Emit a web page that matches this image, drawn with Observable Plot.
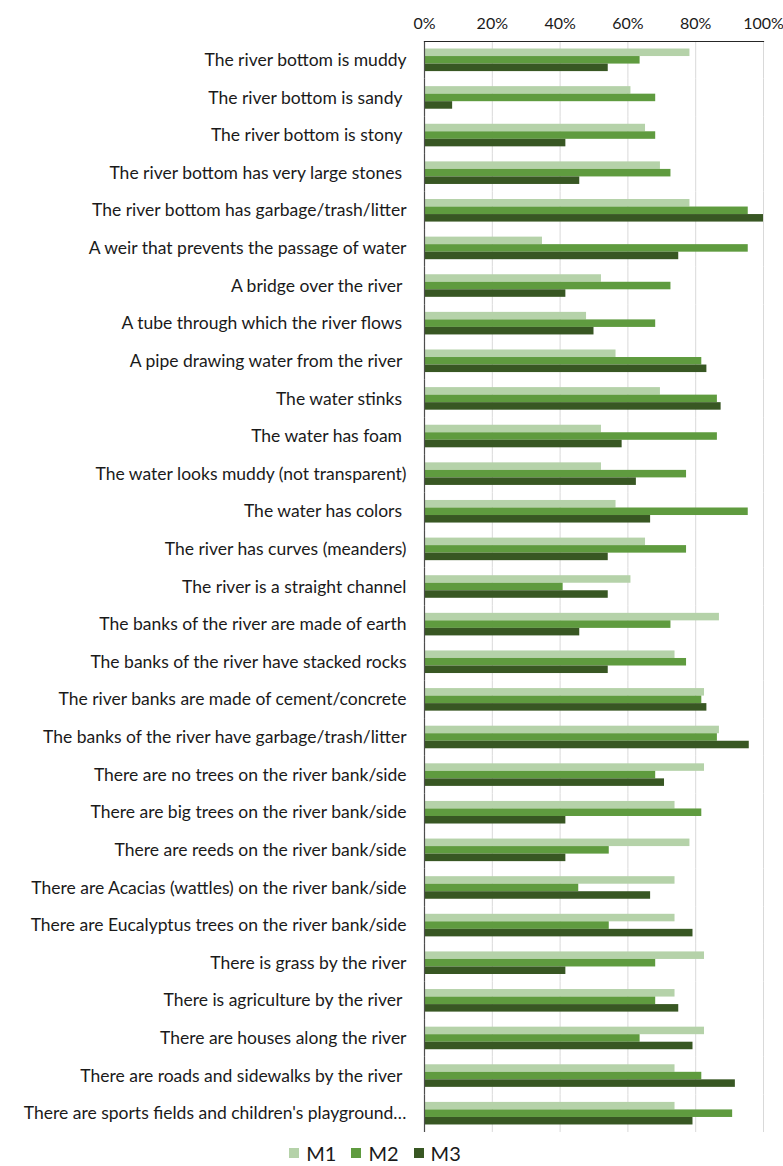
<!DOCTYPE html>
<html>
<head>
<meta charset="utf-8">
<script src="https://cdn.jsdelivr.net/npm/d3@7"></script>
<script src="https://cdn.jsdelivr.net/npm/@observablehq/plot@0.6"></script>
<style>
  html, body { margin: 0; padding: 0; background: #fff; }
  #chart svg text { white-space: pre; }
  .legend { display: flex; justify-content: center; gap: 15px; width: 750px; font-family: Lato, sans-serif; font-size: 20px; color: #1a1a1a; height: 26px; align-items: center; }
  .legend span.item { display: flex; align-items: center; gap: 7px; }
  .legend span.sw { display: inline-block; width: 10px; height: 10px; }
</style>
</head>
<body>
<div id="chart"></div>
<script>
const categories = [
  "The river bottom is muddy",
  "The river bottom is sandy ",
  "The river bottom is stony ",
  "The river bottom has very large stones ",
  "The river bottom has garbage/trash/litter",
  "A weir that prevents the passage of water",
  "A bridge over the river ",
  "A tube through which the river flows ",
  "A pipe drawing water from the river ",
  "The water stinks ",
  "The water has foam ",
  "The water looks muddy (not transparent)",
  "The water has colors ",
  "The river has curves (meanders)",
  "The river is a straight channel",
  "The banks of the river are made of earth",
  "The banks of the river have stacked rocks",
  "The river banks are made of cement/concrete",
  "The banks of the river have garbage/trash/litter",
  "There are no trees on the river bank/side",
  "There are big trees on the river bank/side",
  "There are reeds on the river bank/side",
  "There are Acacias (wattles) on the river bank/side",
  "There are Eucalyptus trees on the river bank/side",
  "There is grass by the river",
  "There is agriculture by the river ",
  "There are houses along the river",
  "There are roads and sidewalks by the river ",
  "There are sports fields and children's playground…"
];
const seriesNames = ["M1", "M2", "M3"];
const seriesColors = ["#b5d2a9", "#5f9b3f", "#385723"];
const m1 = [78.3, 60.9, 65.2, 69.6, 78.3, 34.8, 52.2, 47.8, 56.5, 69.6, 52.2, 52.2, 56.5, 65.2, 60.9, 87.0, 73.9, 82.6, 87.0, 82.6, 73.9, 78.3, 73.9, 73.9, 82.6, 73.9, 82.6, 73.9, 73.9];
const m2 = [63.6, 68.2, 68.2, 72.7, 95.5, 95.5, 72.7, 68.2, 81.8, 86.4, 86.4, 77.3, 95.5, 77.3, 40.9, 72.7, 77.3, 81.8, 86.4, 68.2, 81.8, 54.5, 45.5, 54.5, 68.2, 68.2, 63.6, 81.8, 90.9];
const m3 = [54.2, 8.3, 41.7, 45.8, 100, 75.0, 41.7, 50.0, 83.3, 87.5, 58.3, 62.5, 66.7, 54.2, 54.2, 45.8, 54.2, 83.3, 95.8, 70.8, 41.7, 41.7, 66.7, 79.2, 41.7, 75.0, 79.2, 91.7, 79.2];
const xTicks = [0, 20, 40, 60, 80, 100];

const seriesValues = [m1, m2, m3];
const data = [];
categories.forEach((c, i) => {
  seriesNames.forEach((s, j) => data.push({category: c, series: s, value: seriesValues[j][i]}));
});

const chart = Plot.plot({
  width: 783,
  height: 1140,
  marginTop: 41,
  marginBottom: 8,
  marginLeft: 424,
  marginRight: 20,
  style: {fontFamily: "Lato, sans-serif", color: "#1a1a1a", background: "#fff"},
  x: {domain: [0, 100]},
  y: {domain: seriesNames, paddingInner: 0, paddingOuter: 1, round: false, axis: null},
  fy: {domain: categories, padding: 0, round: false},
  color: {domain: seriesNames, range: seriesColors},
  marks: [
    Plot.gridX(xTicks, {stroke: "#d9d9d9", strokeOpacity: 1, strokeWidth: 1}),
    Plot.barX(data, {fy: "category", y: "series", x: "value", fill: "series"}),
    Plot.ruleX([0], {stroke: "#4d4d4d", strokeWidth: 1.2}),
    Plot.frame({anchor: "top", stroke: "#262626", strokeWidth: 1.2, fy: [categories[0]]}),
    Plot.axisX(xTicks, {anchor: "top", tickSize: 0, tickPadding: 13, tickFormat: d => d + "%", fontSize: 16, label: null, fill: "#1a1a1a"}),
    Plot.axisFy({anchor: "left", tickSize: 0, tickPadding: 18, fontSize: 17.5, label: null, fill: "#1a1a1a"})
  ]
});
document.getElementById("chart").appendChild(chart);

const legend = document.createElement("div");
legend.className = "legend";
seriesNames.forEach((s, j) => {
  const item = document.createElement("span");
  item.className = "item";
  const sw = document.createElement("span");
  sw.className = "sw";
  sw.style.background = seriesColors[j];
  const t = document.createElement("span");
  t.textContent = s;
  item.appendChild(sw);
  item.appendChild(t);
  legend.appendChild(item);
});
document.getElementById("chart").appendChild(legend);
</script>
</body>
</html>
